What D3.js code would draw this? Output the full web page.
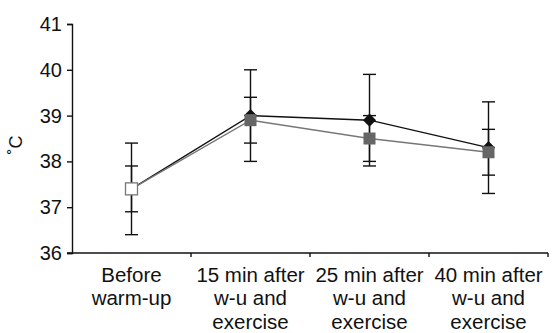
<!DOCTYPE html>
<html>
<head>
<meta charset="utf-8">
<script src="https://cdn.jsdelivr.net/npm/d3@7"></script>
<style>
  html, body { margin: 0; padding: 0; background: #fff; }
  svg { display: block; font-family: "Liberation Sans", Arial, sans-serif; }
</style>
</head>
<body>
<svg id="chart" width="552" height="333"></svg>
<script>
// Timepoints (multi-line labels)
const categories = [
  ["Before", "warm-up"],
  ["15 min after", "w-u and", "exercise"],
  ["25 min after", "w-u and", "exercise"],
  ["40 min after", "w-u and", "exercise"]
];
// Temperature means and SD per series
const seriesA = [37.4, 39.0, 38.9, 38.3];   // black diamonds
const seriesAErr = [1.0, 1.0, 1.0, 1.0];
const seriesB = [37.4, 38.9, 38.5, 38.2];   // grey squares
const seriesBErr = [0.5, 0.5, 0.5, 0.5];
const yTicks = [36, 37, 38, 39, 40, 41];

const svg = d3.select("#chart");
const plotLeft = 72, plotRight = 548, plotTop = 24, plotBottom = 253;

const x = d3.scaleBand().domain(d3.range(categories.length)).range([plotLeft, plotRight]).padding(0);
const y = d3.scaleLinear().domain([36, 41]).range([plotBottom, plotTop]);
const cx = i => x(i) + x.bandwidth() / 2;

// Y axis
const yAxis = svg.append("g").attr("transform", `translate(${plotLeft},0)`)
  .call(d3.axisLeft(y).tickValues(yTicks).tickSize(5).tickPadding(5).tickFormat(d3.format("d")));
yAxis.selectAll("text").attr("font-size", 20).attr("fill", "#111").attr("font-family", "Liberation Sans, Arial, sans-serif");
yAxis.selectAll("line, path").attr("stroke", "#111").attr("stroke-width", 1.4);

// X axis with ticks at category boundaries
const xAxisG = svg.append("g").attr("transform", `translate(0,${plotBottom})`);
xAxisG.append("line").attr("x1", plotLeft - 5).attr("x2", plotRight).attr("stroke", "#111").attr("stroke-width", 1.4);
xAxisG.selectAll("line.tick").data(d3.range(1, categories.length + 1)).join("line")
  .attr("class", "tick")
  .attr("x1", i => i < categories.length ? x(i) : plotRight)
  .attr("x2", i => i < categories.length ? x(i) : plotRight)
  .attr("y1", 0).attr("y2", 4).attr("stroke", "#111").attr("stroke-width", 1.4);

// Category labels
const labels = svg.append("g").attr("font-size", 20.5).attr("fill", "#111").attr("text-anchor", "middle");
categories.forEach((lines, i) => {
  const t = labels.append("text").attr("x", cx(i)).attr("y", plotBottom + 28.5);
  lines.forEach((s, k) => t.append("tspan").attr("x", cx(i)).attr("dy", k === 0 ? 0 : 23.5).text(s));
});

// Y axis title
svg.append("text")
  .attr("transform", "translate(22,145) rotate(-90)")
  .attr("text-anchor", "middle").attr("font-size", 18).attr("fill", "#111")
  .text("˚C");

// Error bars
function errorBars(vals, errs, color) {
  const g = svg.append("g").attr("stroke", color).attr("stroke-width", 1.4).attr("fill", "none");
  vals.forEach((v, i) => {
    const x0 = cx(i), cw = 6.5;
    g.append("line").attr("x1", x0).attr("x2", x0).attr("y1", y(v + errs[i])).attr("y2", y(v - errs[i]));
    [v + errs[i], v - errs[i]].forEach(e =>
      g.append("line").attr("x1", x0 - cw).attr("x2", x0 + cw).attr("y1", y(e)).attr("y2", y(e)));
  });
}
errorBars(seriesA, seriesAErr, "#111");
errorBars(seriesB, seriesBErr, "#111");

const line = d3.line().x((d, i) => cx(i)).y(d => y(d));

// Series A: black line with diamonds
svg.append("path").datum(seriesA).attr("d", line)
  .attr("fill", "none").attr("stroke", "#111").attr("stroke-width", 1.4);
svg.append("g").selectAll("path").data(seriesA).join("path")
  .attr("d", d3.symbol(d3.symbolDiamond2, 110))
  .attr("transform", (d, i) => `translate(${cx(i)},${y(d)})`)
  .attr("fill", "#111");

// Series B: grey line with squares (first one hollow)
svg.append("path").datum(seriesB).attr("d", line)
  .attr("fill", "none").attr("stroke", "#777").attr("stroke-width", 1.4);
svg.append("g").selectAll("rect").data(seriesB).join("rect")
  .attr("x", (d, i) => cx(i) - 6).attr("y", d => y(d) - 6)
  .attr("width", 12).attr("height", 12)
  .attr("fill", (d, i) => i === 0 ? "#fff" : "#666")
  .attr("stroke", (d, i) => i === 0 ? "#777" : "none")
  .attr("stroke-width", 1.3);
</script>
</body>
</html>
